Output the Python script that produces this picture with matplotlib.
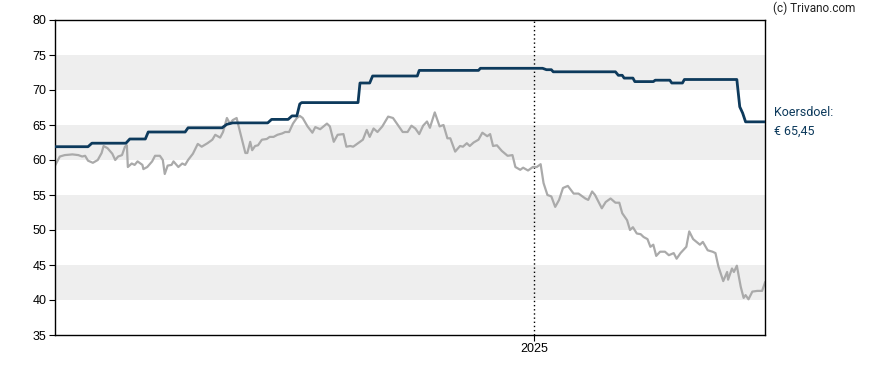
import matplotlib
matplotlib.use("Agg")
import matplotlib.pyplot as plt
import matplotlib.dates as mdates
import pandas as pd

###########################################
#              data
###########################################
start = pd.Timestamp("2023-08-27")
end = pd.Timestamp("2025-08-27")

# koers (grijze lijn): dagen vanaf start, waarde in euro
koers_dag = [0, 5, 10, 18, 24, 28, 31, 34, 39, 44, 48, 50, 54, 59, 62, 65, 69, 72, 74, 75,
             79, 82, 85, 90, 91, 95, 100, 103, 108, 111, 113, 116, 120, 122, 127, 131, 134, 137, 142, 147,
             151, 157, 162, 165, 170, 173, 177, 180, 183, 187, 190, 196, 198, 201, 203, 206, 209, 213, 218, 221,
             225, 229, 234, 237, 241, 245, 249, 252, 255, 260, 265, 268, 273, 280, 283, 287, 291, 297, 300, 304,
             307, 314, 317, 321, 324, 328, 332, 337, 343, 348, 353, 358, 363, 367, 371, 375, 379, 383, 386, 391,
             396, 400, 404, 407, 412, 417, 420, 424, 427, 431, 436, 440, 445, 448, 451, 455, 460, 466, 471, 474,
             479, 482, 487, 492, 496, 500, 503, 507, 511, 515, 519, 523, 528, 534, 539, 546, 549, 553, 556, 563,
             567, 572, 577, 581, 584, 589, 592, 595, 599, 603, 606, 610, 613, 616, 619, 623, 628, 632, 637, 640,
             644, 650, 653, 657, 664, 667, 672, 677, 680, 683, 688, 692, 693, 697, 699, 702, 706, 709, 711, 714,
             718, 723, 728, 731]
koers = [59.2, 60.5, 60.7, 60.8, 60.7, 60.5, 60.6, 59.9, 59.6, 60.0, 61.0, 62.0, 61.7, 60.9, 60.0, 60.5, 60.7, 61.9, 62.1, 59.0,
         59.5, 59.3, 59.8, 59.3, 58.7, 59.0, 59.8, 60.6, 60.6, 60.0, 58.0, 59.2, 59.3, 59.8, 59.0, 59.5, 59.3, 60.0, 60.9, 62.3,
         61.9, 62.4, 62.9, 63.6, 63.2, 64.0, 66.0, 65.2, 65.7, 66.0, 64.3, 61.0, 61.0, 62.6, 61.4, 62.0, 62.1, 62.9, 63.0, 63.3,
         63.3, 63.6, 63.8, 64.0, 64.0, 65.2, 66.0, 66.3, 66.0, 64.8, 63.9, 64.7, 64.4, 65.2, 64.8, 62.6, 63.6, 63.7, 61.9, 62.0,
         61.9, 62.6, 62.9, 64.3, 63.3, 64.5, 64.0, 64.8, 66.2, 66.0, 65.0, 64.0, 64.0, 64.9, 64.5, 63.7, 64.9, 65.5, 64.6, 66.8,
         64.8, 65.0, 63.1, 63.1, 61.2, 62.0, 61.9, 62.4, 62.0, 62.5, 62.9, 63.9, 63.4, 63.7, 62.0, 62.1, 61.3, 60.6, 60.7, 59.0,
         58.6, 58.9, 58.5, 59.0, 59.0, 59.4, 56.7, 55.0, 54.8, 53.3, 54.3, 56.0, 56.3, 55.2, 55.2, 54.5, 54.3, 55.5, 55.0, 53.1,
         54.0, 54.5, 53.9, 53.9, 52.4, 51.4, 50.0, 50.4, 49.5, 49.4, 49.0, 48.7, 47.6, 47.9, 46.3, 46.9, 46.9, 46.4, 46.7, 45.9,
         46.7, 47.6, 49.8, 48.7, 47.9, 48.3, 47.1, 46.9, 46.7, 44.8, 42.7, 44.0, 42.9, 44.5, 44.0, 44.9, 41.9, 40.3, 40.7, 40.1,
         41.2, 41.3, 41.3, 42.5]

# koersdoel (blauwe lijn)
doel_dag = [0, 34, 38, 73, 77, 93, 96, 134, 137, 172, 177, 183, 219, 223, 240, 244, 249, 252, 254, 312,
            314, 324, 327, 373, 375, 436, 438, 502, 506, 511, 513, 577, 580, 584, 586, 595, 597, 616, 618, 633,
            635, 646, 648, 702, 705, 708, 711, 731]
doel = [61.9, 61.9, 62.4, 62.4, 63.0, 63.0, 64.0, 64.0, 64.6, 64.6, 65.1, 65.3, 65.3, 65.8, 65.8, 66.3, 66.3, 68.0, 68.2, 68.2,
        71.0, 71.0, 72.0, 72.0, 72.8, 72.8, 73.1, 73.1, 72.9, 72.9, 72.6, 72.6, 72.1, 72.1, 71.7, 71.7, 71.2, 71.2, 71.4, 71.4,
        71.0, 71.0, 71.5, 71.5, 67.6, 66.7, 65.45, 65.45]

doel_label = "Koersdoel:\n€ 65,45"
y_ticks = [35, 40, 45, 50, 55, 60, 65, 70, 75, 80]
banden = [(40, 45), (50, 55), (60, 65), (70, 75)]

###########################################
#              plot
###########################################
koers_x = start + pd.to_timedelta(koers_dag, unit="D")
doel_x = start + pd.to_timedelta(doel_dag, unit="D")

fig = plt.figure(figsize=(8.88, 3.70), dpi=100)
ax = fig.add_axes([55 / 888, 35 / 370, 710 / 888, 315 / 370])

for lo, hi in banden:
    ax.axhspan(lo, hi, color="#eeeeee", lw=0, zorder=0)

jaar = pd.Timestamp("2025-01-01")
ax.axvline(jaar, color="black", lw=1, ls=(0, (1, 2)), zorder=1)

ax.plot(koers_x, koers, color="#aaaaaa", lw=1.6, zorder=2)
ax.plot(doel_x, doel, color="#0d3a5c", lw=2.0, zorder=3)

ax.set_xlim(start, end)
ax.set_ylim(35, 80)
ax.set_yticks(y_ticks)
ax.set_xticks([jaar])
ax.xaxis.set_major_formatter(mdates.DateFormatter("%Y"))
ax.tick_params(labelsize=9, length=4, width=0.8, colors="black", pad=2)
for lab in ax.get_xticklabels() + ax.get_yticklabels():
    lab.set_family(["Liberation Sans", "DejaVu Sans"])
for s in ax.spines.values():
    s.set_linewidth(1.0)

ax.text(1.012, (65.45 - 35) / 45, doel_label, transform=ax.transAxes,
        ha="left", va="center", fontsize=9, color="#0d3a5c",
        family=["Roboto", "DejaVu Sans"], linespacing=1.5)
fig.text(773 / 888, 1 - 8 / 370, "(c) Trivano.com", ha="left", va="center",
         fontsize=8.5, color="#222222", family=["Roboto", "DejaVu Sans"])

fig.savefig("out.png", dpi=100)
